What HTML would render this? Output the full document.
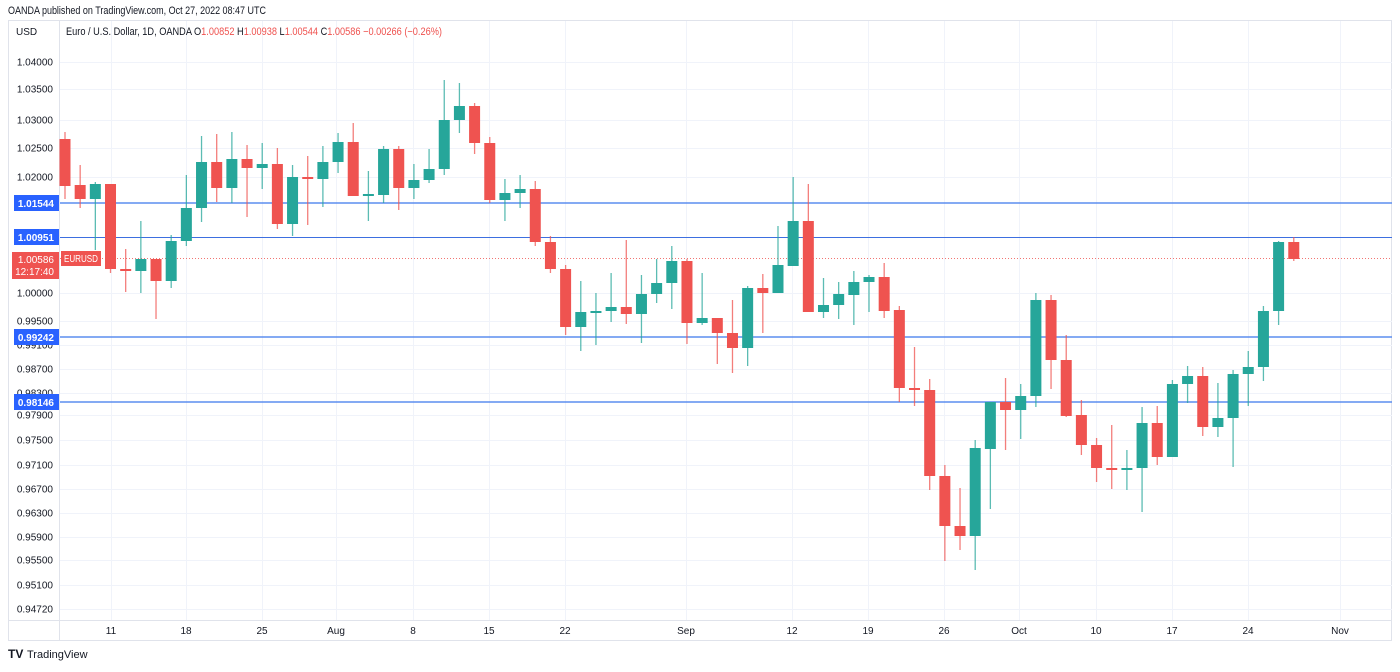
<!DOCTYPE html>
<html><head><meta charset="utf-8"><style>
body{margin:0;background:#fff;width:1400px;height:667px;overflow:hidden;font-family:"Liberation Sans",sans-serif}
</style></head><body>
<svg width="1400" height="667" xmlns="http://www.w3.org/2000/svg" font-family="Liberation Sans, sans-serif">
<text x="8" y="14" font-size="11" fill="#131722" textLength="258" lengthAdjust="spacingAndGlyphs">OANDA published on TradingView.com, Oct 27, 2022 08:47 UTC</text>
<rect x="8.5" y="20.5" width="1383" height="620" fill="#fff" stroke="#e0e3eb"/>
<line x1="59.5" y1="20" x2="59.5" y2="641" stroke="#e0e3eb"/>
<line x1="8" y1="620.5" x2="1392" y2="620.5" stroke="#e0e3eb"/>
<g id="grid" stroke="#f0f3fa" stroke-width="1"></g>
<g id="ylab" font-size="10" fill="#131722" text-anchor="end"></g>
<g id="xlab" font-size="10" fill="#131722" text-anchor="middle"></g>
<text x="16" y="35" font-size="10" fill="#131722">USD</text>
<text x="66" y="35" font-size="11" fill="#131722" textLength="376" lengthAdjust="spacingAndGlyphs">Euro / U.S. Dollar, 1D, OANDA  O<tspan fill="#ef5350">1.00852</tspan>  H<tspan fill="#ef5350">1.00938</tspan>  L<tspan fill="#ef5350">1.00544</tspan>  C<tspan fill="#ef5350">1.00586  −0.00266 (−0.26%)</tspan></text>
<line x1="60" y1="203" x2="1392" y2="203" stroke="#5b8def" stroke-width="1.5"/>
<line x1="60" y1="237.5" x2="1392" y2="237.5" stroke="#3d6fe0" stroke-width="1"/>
<line x1="60" y1="337" x2="1392" y2="337" stroke="#5b8def" stroke-width="1.5"/>
<line x1="60" y1="402" x2="1392" y2="402" stroke="#5b8def" stroke-width="1.5"/>
<line x1="60" y1="258.5" x2="1392" y2="258.5" stroke="#ef5350" stroke-width="1" stroke-dasharray="1,2" opacity="0.8"/>
<g id="candles"></g>
<g font-size="10" fill="#fff" text-anchor="end" font-weight="bold">
<rect x="14" y="195" width="45" height="16" fill="#2962ff"/><text x="54" y="207">1.01544</text>
<rect x="14" y="229" width="45" height="16" fill="#2962ff"/><text x="54" y="241">1.00951</text>
<rect x="14" y="329" width="45" height="16" fill="#2962ff"/><text x="54" y="341">0.99242</text>
<rect x="14" y="394" width="45" height="16" fill="#2962ff"/><text x="54" y="406">0.98146</text>
</g>
<rect x="12" y="252" width="47" height="27" fill="#ef5350"/>
<text x="54" y="263" font-size="10" fill="#fff" text-anchor="end">1.00586</text>
<text x="54" y="275" font-size="10" fill="#fff" text-anchor="end">12:17:40</text>
<rect x="61" y="251" width="40" height="15" fill="#ef5350"/><text x="64" y="262" font-size="10" fill="#fff" textLength="34" lengthAdjust="spacingAndGlyphs">EURUSD</text>
<text x="8" y="658" font-size="12" fill="#131722" font-weight="bold">TV</text>
<text x="27" y="658" font-size="11" fill="#131722">TradingView</text>
</svg>
<script>
const NS="http://www.w3.org/2000/svg";
function el(p,t,a,txt){const e=document.createElementNS(NS,t);for(const k in a)e.setAttribute(k,a[k]);if(txt)e.textContent=txt;document.getElementById(p).appendChild(e);}
const yl=[["1.04000",62],["1.03500",89],["1.03000",120],["1.02500",148],["1.02000",177],["1.00000",293],["0.99500",321],["0.99100",345],["0.98700",369],["0.98300",393],["0.97900",415],["0.97500",440],["0.97100",465],["0.96700",489],["0.96300",513],["0.95900",537],["0.95500",560],["0.95100",585],["0.94720",609]];
yl.forEach(([t,y])=>{el("grid","line",{x1:60,x2:1392,y1:y+.5,y2:y+.5});el("ylab","text",{x:53,y:y+3.5},t);});
const xl=[["11",111],["18",186],["25",262],["Aug",336],["8",413],["15",489],["22",565],["Sep",686],["12",792],["19",868],["26",944],["Oct",1019],["10",1096],["17",1172],["24",1248],["Nov",1340]];
xl.forEach(([t,x])=>{el("grid","line",{x1:x+.5,x2:x+.5,y1:21,y2:620});el("xlab","text",{x:x,y:634},t);});
const C=[[139,186,132,199],[185,199,165,208],[199,184,182,250],[184,269,184,273],[269,271,249,292],[271,259,221,293],[259,281,259,319],[281,241,235,288],[241,208,175,246],[208,162,136,222],[162,188,134,202],[188,159,132,203],[159,168,145,217],[168,164,143,189],[164,224,148,229],[224,177,165,236],[177,179,156,225],[179,162,146,207],[162,142,133,173],[142,196,123,196],[196,194,171,221],[195,149,146,203],[149,188,146,210],[188,180,164,199],[180,169,149,183],[169,120,80,175],[120,106,83,133],[106,143,103,154],[143,200,137,203],[200,193,179,221],[193,189,175,208],[189,242,181,246],[242,269,236,273],[269,327,265,335],[327,312,281,351],[312,311,293,345],[311,307,273,322],[307,314,240,324],[314,294,275,343],[294,283,259,303],[283,261,246,309],[261,323,259,344],[323,318,273,325],[318,333,318,364],[333,348,300,373],[348,288,286,366],[288,293,274,333],[293,265,226,293],[266,221,177,266],[221,312,184,312],[312,305,278,318],[305,294,282,319],[295,282,271,325],[282,277,275,312],[277,311,263,318],[310,388,306,402],[388,390,347,406],[390,476,379,490],[476,526,465,561],[526,536,488,550],[536,448,440,570],[449,402,402,509],[402,410,378,450],[410,396,384,439],[396,300,293,407],[300,360,295,389],[360,416,335,417],[415,445,400,455],[445,468,438,482],[468,469,425,489],[469,468,450,490],[468,423,407,512],[423,457,406,465],[457,384,380,457],[384,376,366,403],[376,427,367,436],[427,418,383,437],[418,374,370,467],[374,367,351,406],[367,311,306,381],[311,242,241,325],[242,259,237,261]];
C.forEach((c,i)=>{const x=65+i*15.17;const[o,cl,h,l]=c;const up=cl<o;const col=up?"#26a69a":"#ef5350";
el("candles","line",{x1:x,x2:x,y1:h,y2:l,stroke:col,"stroke-width":1.3,opacity:0.75});
const t=Math.min(o,cl),b=Math.max(o,cl);el("candles","rect",{x:x-5.5,y:t,width:11,height:Math.max(b-t,2),fill:col});});
</script>
</body></html>
